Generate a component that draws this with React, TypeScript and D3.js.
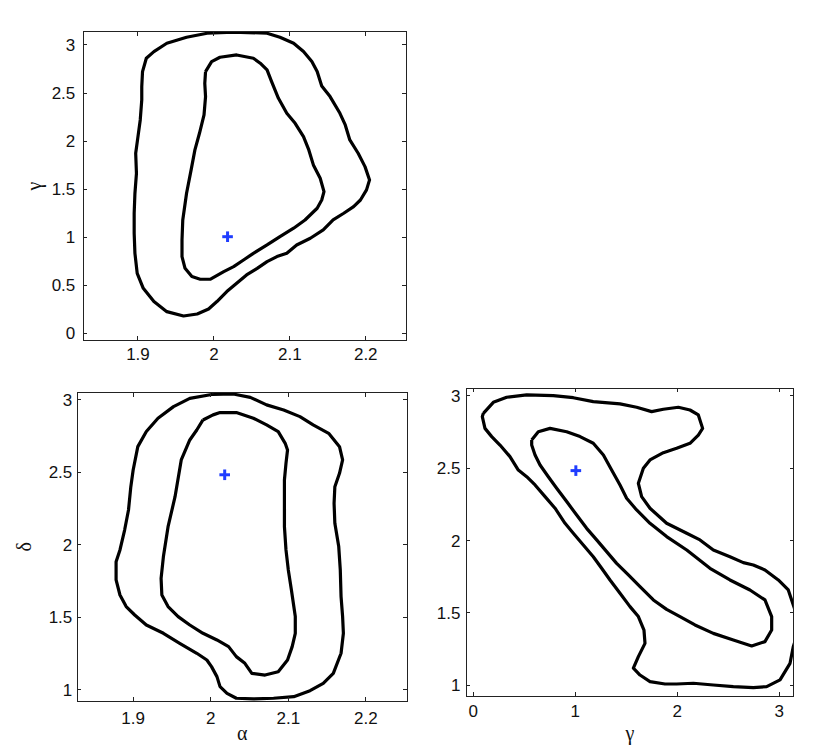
import React from "react";
import * as d3 from "d3";

// confidence contours, [x, y] in data units
// top-left: alpha vs gamma
const agOuter: [number, number][] = [
  [2.035, 3.132], [2.07, 3.122], [2.087, 3.08], [2.105, 3.018], [2.118, 2.931], [2.129, 2.827],
  [2.136, 2.723], [2.142, 2.574], [2.153, 2.463], [2.166, 2.289], [2.173, 2.168], [2.179, 2.012],
  [2.19, 1.873], [2.199, 1.734], [2.205, 1.596], [2.201, 1.492], [2.193, 1.387], [2.184, 1.318],
  [2.171, 1.249], [2.157, 1.179], [2.144, 1.075], [2.127, 0.989], [2.109, 0.919], [2.096, 0.832],
  [2.083, 0.798], [2.07, 0.746], [2.057, 0.676], [2.043, 0.607], [2.03, 0.52], [2.017, 0.434],
  [2.004, 0.33], [1.993, 0.253], [1.978, 0.201], [1.96, 0.18], [1.938, 0.225], [1.921, 0.33],
  [1.907, 0.468], [1.899, 0.624], [1.896, 0.832], [1.895, 1.041], [1.895, 1.249], [1.896, 1.457],
  [1.898, 1.665], [1.897, 1.873], [1.9, 2.046], [1.903, 2.22], [1.905, 2.428], [1.905, 2.567],
  [1.906, 2.723], [1.911, 2.862], [1.921, 2.931], [1.938, 3.018], [1.964, 3.08], [1.991, 3.122],
  [2.017, 3.132],
];
const agInner: [number, number][] = [
  [1.989, 2.723], [1.997, 2.827], [2.008, 2.872], [2.03, 2.896], [2.052, 2.862], [2.061, 2.81],
  [2.07, 2.74], [2.076, 2.619], [2.085, 2.445], [2.096, 2.289], [2.107, 2.185], [2.118, 2.046],
  [2.125, 1.908], [2.131, 1.752], [2.14, 1.613], [2.145, 1.474], [2.142, 1.387], [2.136, 1.301],
  [2.12, 1.179], [2.105, 1.093], [2.087, 1.006], [2.07, 0.919], [2.052, 0.832], [2.039, 0.763],
  [2.026, 0.694], [2.013, 0.642], [1.995, 0.562], [1.982, 0.562], [1.971, 0.59], [1.962, 0.676],
  [1.958, 0.798], [1.958, 0.971], [1.959, 1.179], [1.964, 1.457], [1.97, 1.7], [1.975, 1.908],
  [1.981, 2.081], [1.987, 2.272], [1.989, 2.463], [1.988, 2.601],
];

// bottom-left: alpha vs delta
const adOuter: [number, number][] = [
  [2.003, 3.039], [2.029, 3.041], [2.051, 3.018], [2.072, 2.966], [2.094, 2.931], [2.115, 2.885],
  [2.132, 2.828], [2.152, 2.77], [2.166, 2.678], [2.17, 2.586], [2.166, 2.494], [2.16, 2.402],
  [2.159, 2.287], [2.16, 2.149], [2.165, 1.989], [2.167, 1.828], [2.168, 1.644], [2.17, 1.506],
  [2.171, 1.391], [2.168, 1.253], [2.158, 1.115], [2.145, 1.046], [2.128, 0.995], [2.107, 0.954],
  [2.081, 0.943], [2.055, 0.938], [2.033, 0.943], [2.021, 0.977], [2.012, 1.023], [2.008, 1.092],
  [2.001, 1.161], [1.995, 1.207], [1.982, 1.253], [1.96, 1.322], [1.939, 1.391], [1.917, 1.448],
  [1.902, 1.517], [1.891, 1.575], [1.883, 1.655], [1.878, 1.759], [1.878, 1.885], [1.883, 1.966],
  [1.889, 2.103], [1.894, 2.241], [1.897, 2.402], [1.9, 2.517], [1.906, 2.678], [1.917, 2.782],
  [1.932, 2.874], [1.952, 2.954], [1.973, 3.011],
];
const adInner: [number, number][] = [
  [1.99, 2.862], [2.003, 2.897], [2.012, 2.913], [2.033, 2.913], [2.055, 2.874], [2.072, 2.828],
  [2.087, 2.782], [2.096, 2.701], [2.099, 2.655], [2.097, 2.563], [2.095, 2.448], [2.095, 2.287],
  [2.095, 2.126], [2.097, 1.966], [2.1, 1.828], [2.104, 1.69], [2.109, 1.506], [2.109, 1.391],
  [2.105, 1.299], [2.099, 1.207], [2.087, 1.126], [2.07, 1.103], [2.053, 1.115], [2.044, 1.184],
  [2.033, 1.23], [2.023, 1.299], [2.008, 1.345], [1.99, 1.391], [1.973, 1.448], [1.958, 1.506],
  [1.945, 1.575], [1.937, 1.655], [1.936, 1.77], [1.939, 1.92], [1.945, 2.126], [1.954, 2.333],
  [1.962, 2.586], [1.973, 2.724], [1.982, 2.793],
];

// bottom-right: gamma vs delta (outer one runs past the right edge)
const gdOuter: [number, number][] = [
  [0.098, 2.88], [0.196, 2.956], [0.327, 2.991], [0.523, 3.007], [0.784, 3.002], [0.98, 2.988],
  [1.176, 2.961], [1.438, 2.945], [1.601, 2.922], [1.748, 2.892], [1.863, 2.908], [2.01, 2.922],
  [2.124, 2.903], [2.206, 2.869], [2.248, 2.776], [2.206, 2.73], [2.124, 2.673], [1.993, 2.638],
  [1.863, 2.608], [1.732, 2.558], [1.667, 2.5], [1.618, 2.396], [1.65, 2.304], [1.732, 2.224],
  [1.895, 2.12], [2.092, 2.051], [2.222, 2.005], [2.353, 1.935], [2.516, 1.889], [2.647, 1.848],
  [2.745, 1.832], [2.859, 1.797], [2.99, 1.728], [3.088, 1.659], [3.137, 1.555], [3.203, 1.417],
  [3.137, 1.267], [3.105, 1.152], [3.007, 1.037], [2.876, 0.991], [2.745, 0.984], [2.549, 0.991],
  [2.353, 1.002], [2.157, 1.014], [1.993, 1.009], [1.879, 1.009], [1.732, 1.025], [1.634, 1.071],
  [1.569, 1.118], [1.618, 1.198], [1.683, 1.29], [1.673, 1.382], [1.618, 1.475], [1.536, 1.544],
  [1.438, 1.636], [1.34, 1.728], [1.258, 1.809], [1.176, 1.889], [1.078, 1.97], [0.98, 2.051],
  [0.899, 2.12], [0.801, 2.224], [0.703, 2.304], [0.605, 2.385], [0.523, 2.442], [0.441, 2.488],
  [0.359, 2.581], [0.261, 2.661], [0.18, 2.719], [0.114, 2.776], [0.088, 2.857],
];
const gdInner: [number, number][] = [
  [0.572, 2.696], [0.637, 2.753], [0.752, 2.776], [0.915, 2.753], [1.046, 2.719], [1.176, 2.673],
  [1.275, 2.592], [1.356, 2.488], [1.438, 2.385], [1.503, 2.293], [1.601, 2.212], [1.732, 2.12],
  [1.895, 2.028], [2.092, 1.935], [2.32, 1.809], [2.516, 1.728], [2.712, 1.659], [2.859, 1.59],
  [2.925, 1.475], [2.925, 1.382], [2.859, 1.302], [2.729, 1.272], [2.549, 1.313], [2.353, 1.359],
  [2.173, 1.417], [2.026, 1.475], [1.895, 1.525], [1.765, 1.59], [1.634, 1.682], [1.52, 1.763],
  [1.405, 1.843], [1.307, 1.924], [1.209, 2.005], [1.111, 2.085], [1.013, 2.177], [0.915, 2.27],
  [0.817, 2.362], [0.735, 2.442], [0.654, 2.523], [0.605, 2.592], [0.572, 2.661],
];

// true parameter values (blue crosses)
const alphaTrue = 2.018;
const gammaTrue = 1.005;
const deltaTrue = 2.484;

const alphaTicks = [1.9, 2, 2.1, 2.2];
const gammaTicksTL = [0, 0.5, 1, 1.5, 2, 2.5, 3];
const gammaTicksBR = [0, 1, 2, 3];
const deltaTicks = [1, 1.5, 2, 2.5, 3];

type Panel = {
  id: string;
  box: { x0: number; x1: number; y0: number; y1: number };
  xDomain: [number, number];
  yDomain: [number, number];
  xTicks: number[];
  yTicks: number[];
  contours: [number, number][][];
  truth: [number, number];
  xLabel?: string;
  yLabel?: string;
  xTickGap: number;
  yTickGap: number;
};

const panels: Panel[] = [
  {
    id: "ag",
    box: { x0: 83.3, x1: 406, y0: 31.7, y1: 340.3 },
    xDomain: [1.828, 2.253],
    yDomain: [-0.073, 3.138],
    xTicks: alphaTicks,
    yTicks: gammaTicksTL,
    contours: [agOuter, agInner],
    truth: [alphaTrue, gammaTrue],
    yLabel: "γ",
    xTickGap: 8,
    yTickGap: 8,
  },
  {
    id: "ad",
    box: { x0: 77.3, x1: 407, y0: 392.7, y1: 701 },
    xDomain: [1.828, 2.253],
    yDomain: [0.924, 3.05],
    xTicks: alphaTicks,
    yTicks: deltaTicks,
    contours: [adOuter, adInner],
    truth: [alphaTrue, deltaTrue],
    xLabel: "α",
    yLabel: "δ",
    xTickGap: 10.5,
    yTickGap: 5,
  },
  {
    id: "gd",
    box: { x0: 466, x1: 793.7, y0: 388.3, y1: 696 },
    xDomain: [-0.072, 3.141],
    yDomain: [0.926, 3.053],
    xTicks: gammaTicksBR,
    yTicks: deltaTicks,
    contours: [gdOuter, gdInner],
    truth: [gammaTrue, deltaTrue],
    xLabel: "γ",
    xTickGap: 9,
    yTickGap: 5.5,
  },
];

const tickFont = "'Liberation Sans', Arial, sans-serif";
const labelFont = "'Liberation Serif', 'Times New Roman', serif";

const PanelView = ({ p }: { p: Panel }) => {
  const { x0, x1, y0, y1 } = p.box;
  const x = d3.scaleLinear().domain(p.xDomain).range([x0, x1]);
  const y = d3.scaleLinear().domain(p.yDomain).range([y1, y0]);
  const line = d3
    .line<[number, number]>()
    .x((d) => x(d[0]))
    .y((d) => y(d[1]));
  const tl = 4;
  const cx = x(p.truth[0]);
  const cy = y(p.truth[1]);
  const arm = 5.3;

  return (
    <g>
      <defs>
        <clipPath id={`clip-${p.id}`}>
          <rect x={x0} y={y0} width={x1 - x0} height={y1 - y0} />
        </clipPath>
      </defs>
      <rect x={x0} y={y0} width={x1 - x0} height={y1 - y0} fill="white" />
      <g clipPath={`url(#clip-${p.id})`}>
        {p.contours.map((c, i) => (
          <path
            key={i}
            d={line([...c, c[0]]) || ""}
            fill="none"
            stroke="#000"
            strokeWidth={3.2}
            strokeLinejoin="round"
          />
        ))}
      </g>
      <g stroke="#1f3dff" strokeWidth={3}>
        <line x1={cx - arm} x2={cx + arm} y1={cy} y2={cy} />
        <line x1={cx} x2={cx} y1={cy - arm} y2={cy + arm} />
      </g>
      {/* ticks on all four sides, pointing inward */}
      <g stroke="#222" strokeWidth={1} shapeRendering="crispEdges">
        {p.xTicks.map((t) => (
          <g key={`xt${t}`}>
            <line x1={x(t)} x2={x(t)} y1={y1} y2={y1 - tl} />
            <line x1={x(t)} x2={x(t)} y1={y0} y2={y0 + tl} />
          </g>
        ))}
        {p.yTicks.map((t) => (
          <g key={`yt${t}`}>
            <line x1={x0} x2={x0 + tl} y1={y(t)} y2={y(t)} />
            <line x1={x1} x2={x1 - tl} y1={y(t)} y2={y(t)} />
          </g>
        ))}
        <rect x={x0} y={y0} width={x1 - x0} height={y1 - y0} fill="none" />
      </g>
      <g fontFamily={tickFont} fontSize={17} fill="#111">
        {p.xTicks.map((t) => (
          <text key={`xl${t}`} x={x(t)} y={y1 + p.xTickGap} dy="0.71em" textAnchor="middle">
            {String(t)}
          </text>
        ))}
        {p.yTicks.map((t) => (
          <text key={`yl${t}`} x={x0 - p.yTickGap} y={y(t)} dy="0.35em" textAnchor="end">
            {String(t)}
          </text>
        ))}
      </g>
      {p.xLabel && (
        <text
          x={(x0 + x1) / 2}
          y={740}
          textAnchor="middle"
          fontFamily={labelFont}
          fontSize={20}
          fill="#111"
        >
          {p.xLabel}
        </text>
      )}
      {p.yLabel && (
        <text
          transform={`translate(${p.id === "ag" ? 41 : 31},${(y0 + y1) / 2}) rotate(-90)`}
          textAnchor="middle"
          fontFamily={labelFont}
          fontSize={20}
          fill="#111"
        >
          {p.yLabel}
        </text>
      )}
    </g>
  );
};

const App = () => (
  <svg
    width={830}
    height={755}
    style={{ position: "absolute", left: 0, top: 0, background: "white" }}
  >
    <rect width={830} height={755} fill="white" />
    {panels.map((p) => (
      <PanelView key={p.id} p={p} />
    ))}
  </svg>
);

export default App;
